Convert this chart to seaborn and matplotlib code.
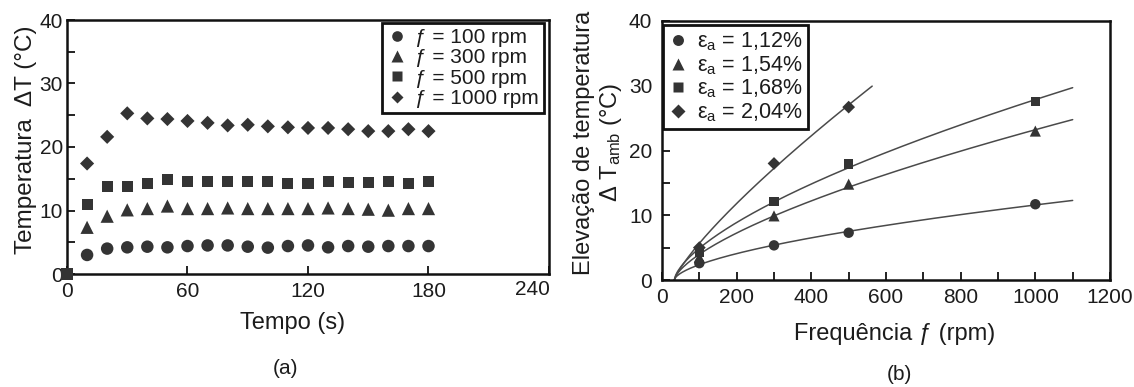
import numpy as np
import pandas as pd
import matplotlib
matplotlib.use("Agg")
import matplotlib.pyplot as plt
from matplotlib.ticker import MultipleLocator
from matplotlib.lines import Line2D
import seaborn as sns

# ---------------- data: panel (a) temperature vs time ----------------
tempo = [10, 20, 30, 40, 50, 60, 70, 80, 90, 100, 110, 120, 130, 140, 150, 160, 170, 180]
dt_100 = [3.0, 4.0, 4.2, 4.3, 4.2, 4.4, 4.5, 4.5, 4.3, 4.15, 4.4, 4.5, 4.2, 4.4, 4.3, 4.4, 4.4, 4.4]
dt_300 = [7.35, 9.1, 10.1, 10.3, 10.7, 10.3, 10.3, 10.4, 10.3, 10.3, 10.3, 10.3, 10.4, 10.3, 10.2, 10.05, 10.3, 10.3]
dt_500 = [10.9, 13.75, 13.75, 14.3, 14.9, 14.6, 14.5, 14.5, 14.6, 14.5, 14.3, 14.3, 14.6, 14.4, 14.4, 14.5, 14.2, 14.5]
dt_1000 = [17.4, 21.6, 25.3, 24.5, 24.4, 24.1, 23.8, 23.4, 23.5, 23.25, 23.1, 23.0, 23.0, 22.8, 22.5, 22.5, 22.8, 22.5]
rot_labels = ["ƒ = 100 rpm", "ƒ = 300 rpm", "ƒ = 500 rpm", "ƒ = 1000 rpm"]
time_ticks = [0, 60, 120, 180, 240]

# ---------------- data: panel (b) temperature rise vs frequency ----------------
freq = [100, 300, 500, 1000]
dtamb_112 = [2.6, 5.35, 7.3, 11.7]
dtamb_154 = [3.5, 9.9, 14.8, 23.0]
dtamb_168 = [4.3, 12.1, 17.9, 27.6]
freq_204 = [100, 300, 500]
dtamb_204 = [5.0, 18.0, 26.7]
strain_labels = ["1,12%", "1,54%", "1,68%", "2,04%"]
f_onset = 33          # frequency where the fitted curves leave zero
curve_end = [1100, 1100, 1100, 563]

markers = ["o", "^", "s", "D"]
mark_color = "#343434"
line_color = "#4a4a4a"
txt = "#1c1c1c"

sns.set_theme(style="white")
plt.rcParams["font.family"] = ["Liberation Sans", "DejaVu Sans"]
plt.rcParams["mathtext.fontset"] = "custom"
plt.rcParams["mathtext.rm"] = "Liberation Sans"
plt.rcParams["mathtext.it"] = "Liberation Sans:italic"
plt.rcParams["mathtext.bf"] = "Liberation Sans:bold"
plt.rcParams["text.color"] = txt
plt.rcParams["axes.labelcolor"] = txt
plt.rcParams["xtick.color"] = txt
plt.rcParams["ytick.color"] = txt

W, H = 1134, 387
fig = plt.figure(figsize=(W / 100, H / 100), dpi=100)
fig.patch.set_facecolor("white")


def frame(ax):
    for s in ax.spines.values():
        s.set_visible(True)
        s.set_color("#111111")
        s.set_linewidth(1.8)
    ax.tick_params(which="both", direction="in", length=6, width=1.3,
                   bottom=True, left=True, top=False, right=False, labelsize=15,
                   color="#111111")
    ax.set_facecolor("white")
    ax.grid(False)


# ---------------- panel (a) ----------------
ax1 = fig.add_axes([67 / W, 1 - 274 / H, (549 - 67) / W, (274 - 20) / H])
frame(ax1)
series_a = [dt_100, dt_300, dt_500, dt_1000]
sizes_a = [9, 9.5, 8, 7.2]
for vals, mk, ms, lab in zip(series_a, markers, sizes_a, rot_labels):
    df = pd.DataFrame({"t": tempo, "dT": vals})
    sns.scatterplot(data=df, x="t", y="dT", ax=ax1, marker=mk, s=ms ** 2,
                    color=mark_color, edgecolor="none", linewidth=0, legend=False)
# starting reading at t = 0
sns.scatterplot(x=[0], y=[0], ax=ax1, marker="s", s=8 ** 2, color=mark_color,
                edgecolor="none", linewidth=0, legend=False, clip_on=False, zorder=5)
ax1.set_xlim(0, 240)
ax1.set_ylim(0, 40)
ax1.set_xticks(time_ticks)
ax1.set_xticklabels([str(t) for t in time_ticks[:-1]] + [""])
ax1.yaxis.set_major_locator(MultipleLocator(10))
ax1.yaxis.set_minor_locator(MultipleLocator(5))
ax1.tick_params(axis="x", pad=6)
ax1.tick_params(axis="y", pad=3)
# the last time label sits a little higher and to the left of its tick
ax1.text(0.965, -0.022, str(time_ticks[-1]), transform=ax1.transAxes,
         ha="center", va="top", fontsize=15, color=txt)
ax1.set_xlabel("Tempo (s)", fontsize=17)
ax1.set_ylabel("Temperatura  ΔT (°C)", fontsize=17.5)
ax1.xaxis.set_label_coords(0.469, -0.15)
ax1.yaxis.set_label_coords(-0.062, 0.53)

h_a = [Line2D([], [], ls="none", marker=m, ms=s * 0.85, color=mark_color, mec="none")
       for m, s in zip(markers, sizes_a)]
leg1 = ax1.legend(h_a, rot_labels, loc="upper left",
                  bbox_to_anchor=(382 / W, 1 - 23 / H), bbox_transform=fig.transFigure,
                  fontsize=15, frameon=True, fancybox=False, framealpha=1,
                  edgecolor="#111111", borderpad=0.25, labelspacing=0.06,
                  handlelength=0.9, handletextpad=0.45, borderaxespad=0)
leg1.get_frame().set_linewidth(2.0)

# ---------------- panel (b) ----------------
ax2 = fig.add_axes([662 / W, 1 - 280 / H, (1110 - 662) / W, (280 - 21) / H])
frame(ax2)


def power_fit(x, y, f0):
    x = np.asarray(x, float)
    y = np.asarray(y, float)
    best = None
    for b in np.linspace(0.3, 1.2, 901):
        g = (x - f0) ** b
        a = (g @ y) / (g @ g)
        sse = ((a * g - y) ** 2).sum()
        if best is None or sse < best[0]:
            best = (sse, a, b)
    return best[1], best[2]


series_b = [(freq, dtamb_112), (freq, dtamb_154), (freq, dtamb_168), (freq_204, dtamb_204)]
sizes_b = [7.5, 8, 6.8, 6.5]
for (fx, fy), mk, ms, xend in zip(series_b, markers, sizes_b, curve_end):
    a, b = power_fit(fx, fy, f_onset)
    xs = np.linspace(f_onset, xend, 300)
    curve = pd.DataFrame({"f": xs, "T": a * (xs - f_onset) ** b})
    sns.lineplot(data=curve, x="f", y="T", ax=ax2, color=line_color, lw=1.1,
                 legend=False, zorder=2)
    pts = pd.DataFrame({"f": fx, "T": fy})
    sns.scatterplot(data=pts, x="f", y="T", ax=ax2, marker=mk, s=ms ** 2,
                    color=mark_color, edgecolor="none", linewidth=0,
                    legend=False, zorder=3)
ax2.set_xlim(0, 1200)
ax2.set_ylim(0, 40)
ax2.set_xticks(np.arange(0, 1201, 200))
ax2.set_xticks(np.arange(100, 1101, 200), minor=True)
ax2.yaxis.set_major_locator(MultipleLocator(10))
ax2.yaxis.set_minor_locator(MultipleLocator(5))
ax2.tick_params(axis="x", pad=6)
ax2.tick_params(axis="y", pad=7)
ax2.set_xlabel("Frequência ƒ (rpm)", fontsize=17)
ax2.set_ylabel("Elevação de temperatura\n" + r"Δ T$_{\mathrm{amb}}$ (°C)", fontsize=17,
               linespacing=1.15)
ax2.xaxis.set_label_coords(0.52, -0.165)
ax2.yaxis.set_label_coords(-0.085, 0.53)

strain_txt = [r"$\mathrm{ε_a}$ = " + s for s in strain_labels]
h_b = [Line2D([], [], ls="none", marker=m, ms=s * 1.05, color=mark_color, mec="none")
       for m, s in zip(markers, sizes_b)]
leg2 = ax2.legend(h_b, strain_txt, loc="upper left",
                  bbox_to_anchor=(663 / W, 1 - 25 / H), bbox_transform=fig.transFigure,
                  fontsize=15.5, frameon=True, fancybox=False, framealpha=1,
                  edgecolor="#111111", borderpad=0.25, labelspacing=0.05,
                  handlelength=0.9, handletextpad=0.45, borderaxespad=0)
leg2.get_frame().set_linewidth(2.0)

fig.text(286 / W, 1 - 368 / H, "(a)", ha="center", va="center", fontsize=15)
fig.text(899 / W, 1 - 374 / H, "(b)", ha="center", va="center", fontsize=15)

fig.savefig("out.png", dpi=100, facecolor="white")
